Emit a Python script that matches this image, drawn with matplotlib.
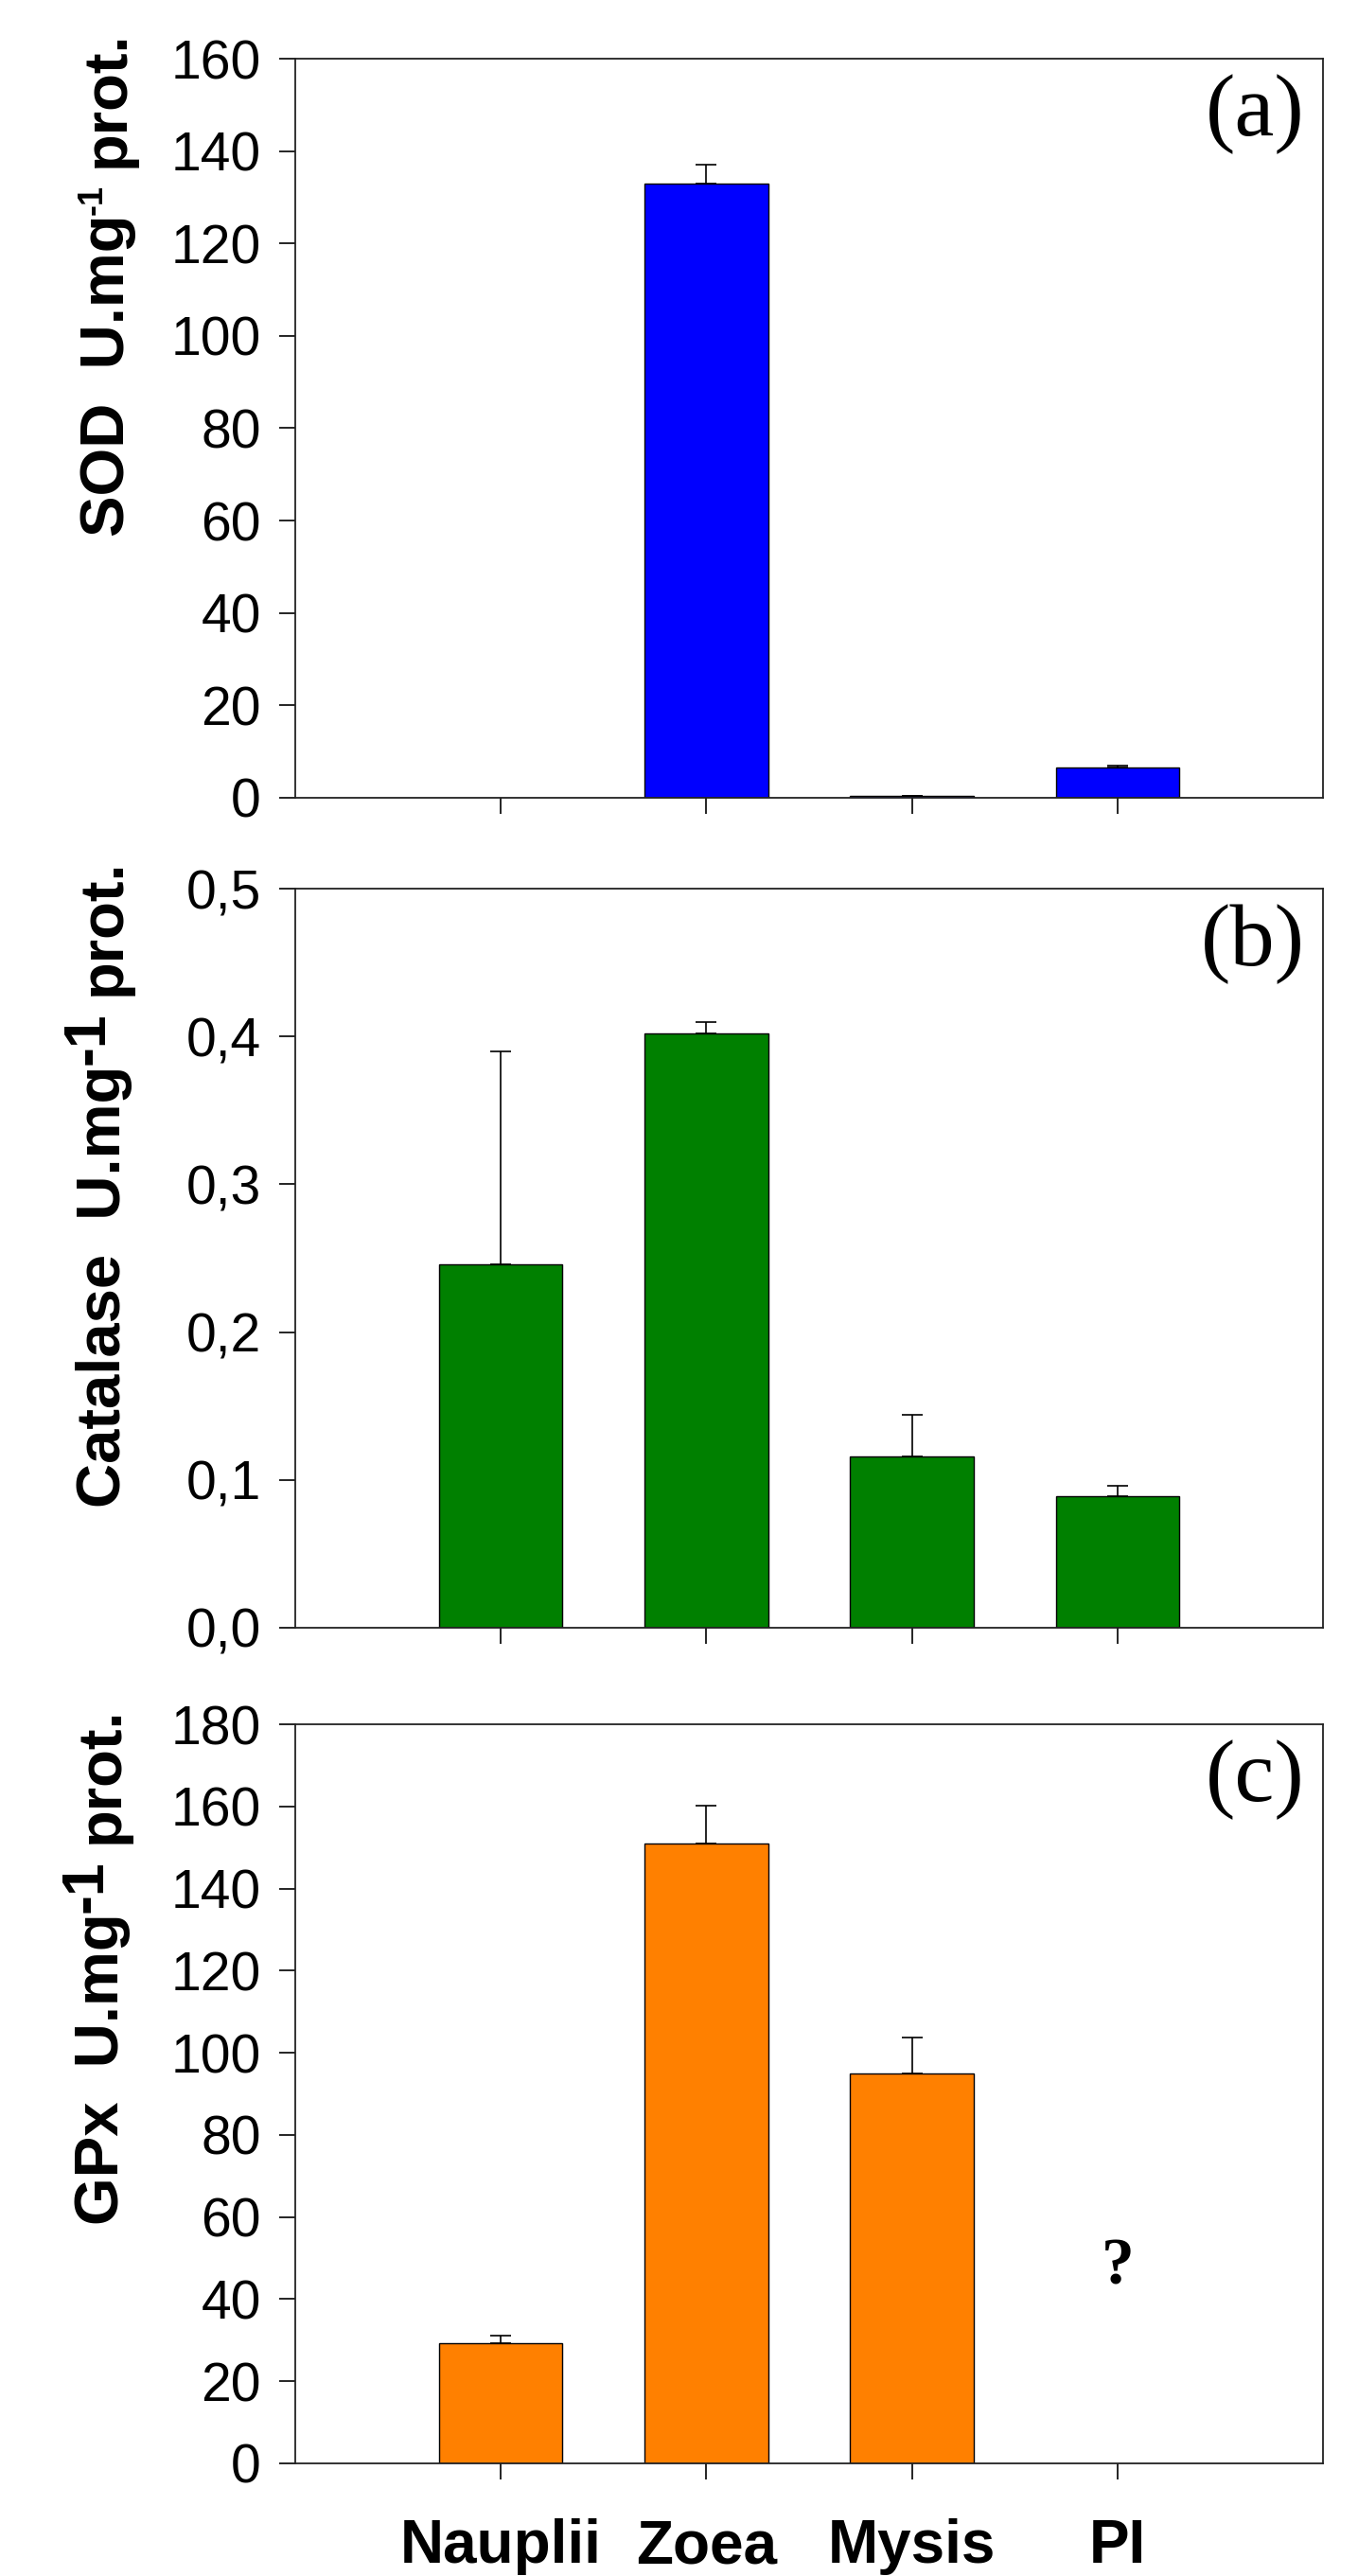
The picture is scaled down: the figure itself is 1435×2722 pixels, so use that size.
import numpy as np
import matplotlib
matplotlib.use("Agg")
import matplotlib.pyplot as plt

# ---------------- data ----------------
stages = ["Nauplii", "Zoea", "Mysis", "PI"]

sod_mean = [np.nan, 133.0, 0.5, 6.5]
sod_err = [np.nan, 4.0, 0.0, 0.5]

cat_mean = [0.246, 0.402, 0.116, 0.089]
cat_err = [0.144, 0.008, 0.028, 0.007]

gpx_mean = [29.2, 151.0, 95.0, np.nan]
gpx_err = [1.8, 9.2, 8.6, np.nan]

sod_ticks = [0, 20, 40, 60, 80, 100, 120, 140, 160]
sod_ticklabels = ["0", "20", "40", "60", "80", "100", "120", "140", "160"]
cat_ticks = [0.0, 0.1, 0.2, 0.3, 0.4, 0.5]
cat_ticklabels = ["0,0", "0,1", "0,2", "0,3", "0,4", "0,5"]
gpx_ticks = [0, 20, 40, 60, 80, 100, 120, 140, 160, 180]
gpx_ticklabels = ["0", "20", "40", "60", "80", "100", "120", "140", "160", "180"]

ylabel_names = ["SOD", "Catalase", "GPx"]
unit_main = "U.mg"
unit_exp = "-1"
unit_tail = "prot."
panel_tags = ["(a)", "(b)", "(c)"]

unknown_mark = ("?", 4, 47.5)   # (text, category position, y value)

sans = "Liberation Sans"
serif = "Liberation Serif"

W, H = 1435, 2722
fig = plt.figure(figsize=(W / 100, H / 100), dpi=100)
fig.patch.set_facecolor("white")

left = 312 / W
width = 1086 / W
height = 781 / H
panels = [
    dict(bottom=1 - 843 / H, mean=sod_mean, err=sod_err, color="#0000FF",
         ylim=(0, 160), ticks=sod_ticks, labels=sod_ticklabels,
         exp_size=26, exp_rise=23, lab_top=32, lab_base=131),
    dict(bottom=1 - 1720 / H, mean=cat_mean, err=cat_err, color="#008000",
         ylim=(0, 0.5), ticks=cat_ticks, labels=cat_ticklabels,
         exp_size=45, exp_rise=18, lab_top=907, lab_base=127),
    dict(bottom=1 - 2603 / H, mean=gpx_mean, err=gpx_err, color="#FF8000",
         ylim=(0, 180), ticks=gpx_ticks, labels=gpx_ticklabels,
         exp_size=45, exp_rise=18, lab_top=1803, lab_base=125),
]

LAB_SIZE = 47
renderer = fig.canvas.get_renderer()


def text_width(s, size):
    t = fig.text(0, 0, s, fontsize=size, fontweight="bold", family=sans)
    w = t.get_window_extent(renderer).width
    t.remove()
    return w


def draw_ylabel(name, p):
    space = text_width("a a", LAB_SIZE) - text_width("aa", LAB_SIZE)
    pieces = [
        (name + "  " + unit_main, LAB_SIZE, 0),
        (unit_exp, p["exp_size"], p["exp_rise"]),
        (unit_tail, LAB_SIZE, 0),
    ]
    widths = [text_width(s, sz) for s, sz, _ in pieces]
    total = sum(widths) + space
    y = (H - p["lab_top"]) - total
    for k, ((s, sz, rise), w) in enumerate(zip(pieces, widths)):
        fig.text((p["lab_base"] - rise) / W, y / H, s, rotation=90,
                 rotation_mode="anchor", ha="left", va="baseline",
                 fontsize=sz, fontweight="bold", family=sans)
        y += w
        if k == 1:
            y += space


x = np.arange(1, len(stages) + 1)

for i, p in enumerate(panels):
    ax = fig.add_axes([left, p["bottom"], width, height])
    mean = np.array(p["mean"], dtype=float)
    err = np.array(p["err"], dtype=float)
    ax.bar(x, mean, width=0.6, color=p["color"], edgecolor="black",
           linewidth=1.0, zorder=2)
    yerr = np.vstack([np.zeros_like(err), err])
    ax.errorbar(x, mean, yerr=yerr, fmt="none", ecolor="black",
                elinewidth=1.2, capsize=8, capthick=1.2, zorder=3)
    ax.set_xlim(0, 5)
    ax.set_ylim(*p["ylim"])
    ax.set_yticks(p["ticks"])
    ax.set_yticklabels(p["labels"], fontfamily=sans, fontsize=41)
    ax.set_xticks(x)
    if i == 2:
        ax.set_xticklabels(stages, fontfamily=sans, fontweight="bold",
                           fontsize=46)
    else:
        ax.set_xticklabels([])
    ax.tick_params(axis="both", direction="out", length=12, width=1.2,
                   color="black")
    ax.tick_params(axis="y", pad=14)
    ax.tick_params(axis="x", pad=30)
    for s in ax.spines.values():
        s.set_linewidth(1.3)
        s.set_color("#222222")
    draw_ylabel(ylabel_names[i], p)
    ax.text(0.982, 0.925, panel_tags[i], transform=ax.transAxes, ha="right",
            va="center", fontfamily=serif, fontsize=68)
    if i == 2:
        t, xp, yp = unknown_mark
        ax.text(xp, yp, t, ha="center", va="center", fontfamily=serif,
                fontweight="bold", fontsize=50)

fig.savefig("out.png", dpi=100, facecolor="white")
